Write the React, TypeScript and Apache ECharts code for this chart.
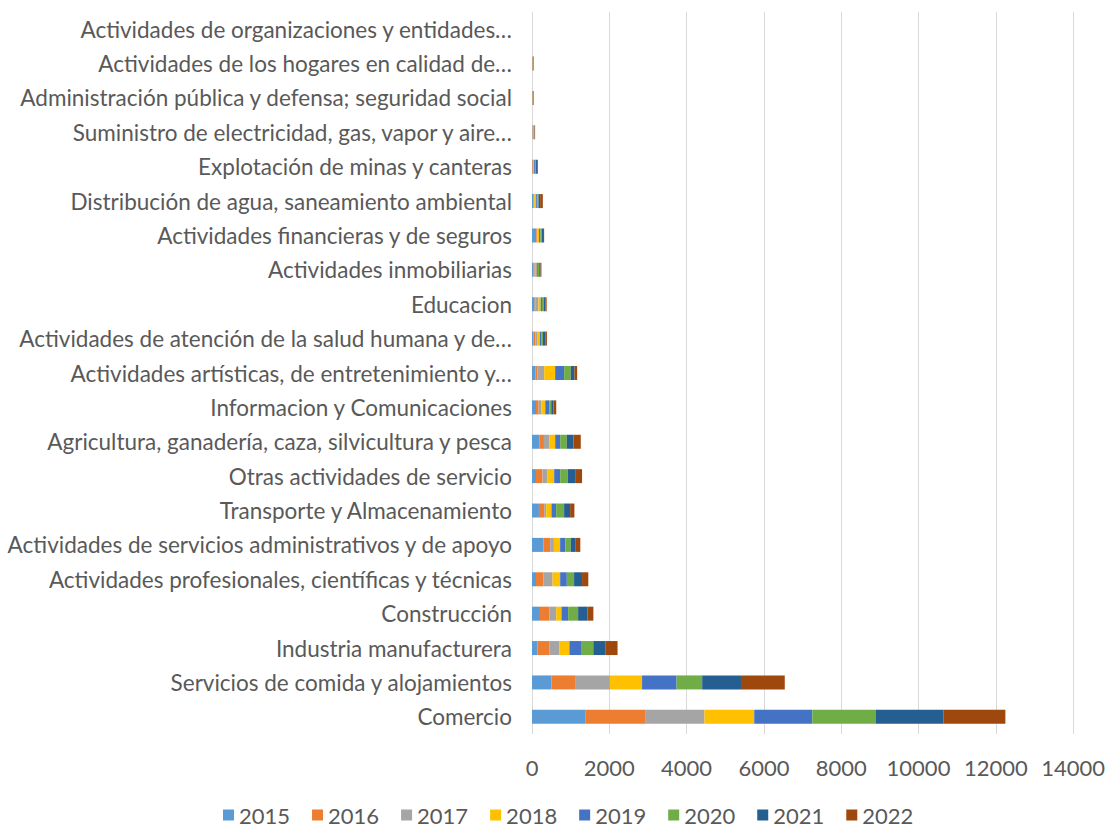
import React, { useEffect, useRef } from "react";
import * as echarts from "echarts";

const categories = [
  "Comercio",
  "Servicios de comida y alojamientos",
  "Industria manufacturera",
  "Construcción",
  "Actividades profesionales, científicas y técnicas",
  "Actividades de servicios administrativos y de apoyo",
  "Transporte y Almacenamiento",
  "Otras actividades de servicio",
  "Agricultura, ganadería, caza, silvicultura y pesca",
  "Informacion y Comunicaciones",
  "Actividades artísticas, de entretenimiento y…",
  "Actividades de atención de la salud humana y de…",
  "Educacion",
  "Actividades inmobiliarias",
  "Actividades financieras y de seguros",
  "Distribución de agua, saneamiento ambiental",
  "Explotación de minas y canteras",
  "Suministro de electricidad, gas, vapor y aire…",
  "Administración pública y defensa; seguridad social",
  "Actividades de los hogares en calidad de…",
  "Actividades de organizaciones y entidades…",
];

const years = ["2015", "2016", "2017", "2018", "2019", "2020", "2021", "2022"];

const v2015 = [1390, 505, 144, 206, 103, 299, 180, 103, 188, 103, 85, 34, 69, 34, 112, 34, 10, 5, 3, 3, 0];
const v2016 = [1553, 628, 301, 240, 196, 172, 136, 170, 121, 67, 59, 52, 26, 34, 26, 17, 30, 10, 12, 12, 0];
const v2017 = [1519, 883, 258, 180, 232, 95, 52, 129, 136, 70, 172, 60, 69, 30, 10, 5, 5, 30, 3, 3, 0];
const v2018 = [1288, 832, 265, 137, 198, 162, 136, 172, 155, 103, 283, 60, 60, 20, 34, 52, 10, 5, 3, 3, 0];
const v2019 = [1502, 893, 301, 172, 172, 136, 121, 155, 129, 103, 232, 43, 34, 34, 34, 34, 40, 5, 3, 3, 0];
const v2020 = [1648, 662, 317, 258, 188, 139, 206, 198, 172, 52, 172, 34, 43, 34, 34, 26, 10, 5, 3, 3, 0];
const v2021 = [1751, 1004, 309, 240, 206, 129, 155, 206, 170, 59, 95, 69, 52, 34, 34, 43, 30, 5, 3, 3, 0];
const v2022 = [1597, 1133, 319, 155, 162, 118, 111, 162, 191, 70, 70, 34, 26, 24, 30, 69, 20, 15, 14, 14, 0];

const seriesValues = [v2015, v2016, v2017, v2018, v2019, v2020, v2021, v2022];

const colors = ["#5B9BD5", "#ED7D31", "#A5A5A5", "#FFC000", "#4472C4", "#70AD47", "#255E91", "#9E480E"];

const xTicks = { min: 0, max: 14000, interval: 2000 };

const FONT = "Lato, 'Open Sans', sans-serif";
const TEXT = "#595959";

export default function App() {
  const ref = useRef<HTMLDivElement>(null);
  useEffect(() => {
    document.body.style.margin = "0";
    if (!ref.current) return;
    const chart = echarts.init(ref.current, undefined, { renderer: "svg" });
    chart.setOption({
      animation: false,
      backgroundColor: "#ffffff",
      color: colors,
      textStyle: { fontFamily: FONT },
      grid: { left: 532, right: 33, top: 12, bottom: 93, containLabel: false },
      legend: {
        top: 799,
        left: 218,
        itemWidth: 11,
        itemHeight: 11,
        itemGap: 22,
        icon: "rect",
        textStyle: { fontSize: 22, color: TEXT, fontFamily: FONT },
        data: years,
      },
      xAxis: {
        type: "value",
        min: xTicks.min,
        max: xTicks.max,
        interval: xTicks.interval,
        axisLine: { show: false },
        axisTick: { show: false },
        axisLabel: {
          fontSize: 22,
          color: TEXT,
          margin: 22,
          fontFamily: FONT,
          formatter: (v: number) => String(v),
        },
        splitLine: { show: true, lineStyle: { color: "#d9d9d9", width: 1 } },
      },
      yAxis: {
        type: "category",
        data: categories,
        axisLine: { show: false },
        axisTick: { show: false },
        axisLabel: { fontSize: 22.5, color: TEXT, margin: 20, fontFamily: FONT },
        splitLine: { show: false },
      },
      series: years.map((y, i) => ({
        name: y,
        type: "bar",
        stack: "total",
        data: seriesValues[i],
        barWidth: 14,
        itemStyle: { color: colors[i] },
      })),
    });
    return () => chart.dispose();
  }, []);
  return <div ref={ref} style={{ width: 1108, height: 827 }} />;
}
